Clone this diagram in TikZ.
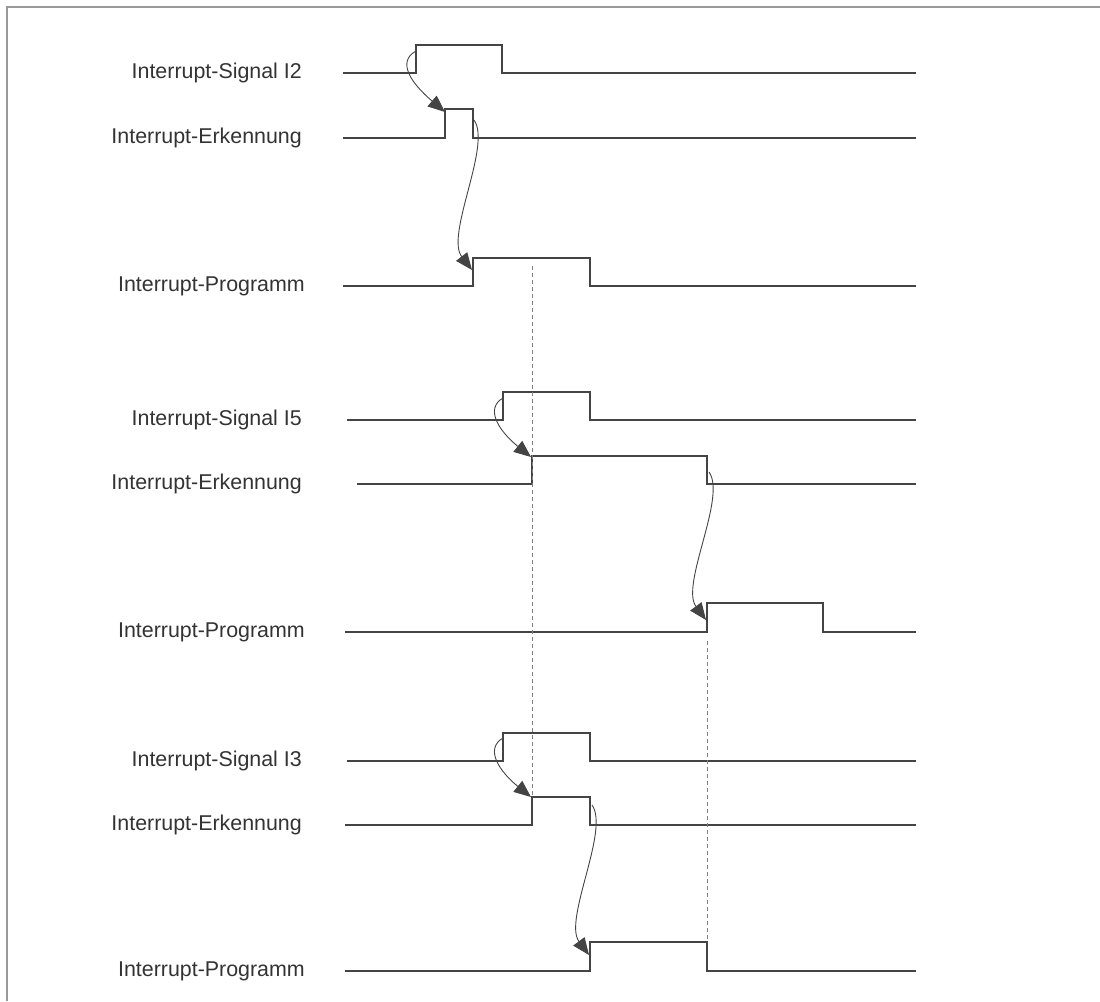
\documentclass[tikz,border=0pt]{standalone}
\usepackage{fontspec}
\setmainfont{Liberation Sans}
\usetikzlibrary{arrows.meta}
\definecolor{wavegray}{HTML}{444444}
\definecolor{textgray}{HTML}{333333}
\tikzstyle{signame} = [anchor=east, inner sep=0pt, text=textgray, font=\fontsize{21.4}{25}\selectfont]
\tikzstyle{signal} = [line width=1.8pt, draw=wavegray]
\tikzstyle{trigger} = [line width=0.9pt, draw=wavegray, -{Triangle[length=17pt,width=14pt]}]
\tikzstyle{marker} = [line width=0.9pt, draw=gray, dash pattern=on 4pt off 3pt]
\tikzstyle{frame} = [line width=2pt, draw=gray!80]

\begin{document}
\begin{tikzpicture}[x=1pt, y=-1pt]
\useasboundingbox (0,0) rectangle (1100,1001);
\draw [frame] (1100,7) -- (7,7) -- (7,1001);

%% NODES

\node (sigA) [signame] at (302,73) {Interrupt-Signal I2};
\node (erkA) [signame] at (302,138) {Interrupt-Erkennung};
\node (prgA) [signame] at (305,286) {Interrupt-Programm};
\node (sigB) [signame] at (302,420) {Interrupt-Signal I5};
\node (erkB) [signame] at (302,484) {Interrupt-Erkennung};
\node (prgB) [signame] at (305,632) {Interrupt-Programm};
\node (sigC) [signame] at (302,761) {Interrupt-Signal I3};
\node (erkC) [signame] at (302,825) {Interrupt-Erkennung};
\node (prgC) [signame] at (305,971) {Interrupt-Programm};

%% SIGNALS

\draw [signal] (343,73) -- (416,73) -- (416,45) -- (502,45) -- (502,73) -- (916,73);
\draw [signal] (343,138) -- (445,138) -- (445,109) -- (473,109) -- (473,138) -- (916,138);
\draw [signal] (343,286) -- (473,286) -- (473,258) -- (590,258) -- (590,286) -- (916,286);

\draw [signal] (347,420) -- (503,420) -- (503,392) -- (590,392) -- (590,420) -- (916,420);
\draw [signal] (357,484) -- (532,484) -- (532,456) -- (707,456) -- (707,484) -- (916,484);
\draw [signal] (345,632) -- (707,632) -- (707,603) -- (823,603) -- (823,632) -- (916,632);

\draw [signal] (347,761) -- (503,761) -- (503,733) -- (590,733) -- (590,761) -- (916,761);
\draw [signal] (345,825) -- (532,825) -- (532,797) -- (590,797) -- (590,825) -- (916,825);
\draw [signal] (345,971) -- (590,971) -- (590,942) -- (707,942) -- (707,971) -- (916,971);

\draw [marker] (532,266) -- (532,797);
\draw [marker] (707,641) -- (707,942);

%% ARROWS

\coordinate (sigA-up) at (416,51);
\coordinate (erkA-up) at (445,112);
\coordinate (erkA-down) at (474,120);
\coordinate (prgA-up) at (472,270);
\coordinate (sigB-up) at (503,398);
\coordinate (erkB-up) at (531,457);
\coordinate (erkB-down) at (709,472);
\coordinate (prgB-up) at (706,620);
\coordinate (sigC-up) at (503,738);
\coordinate (erkC-up) at (531,797);
\coordinate (erkC-down) at (592,805);
\coordinate (prgC-up) at (589,955);

\draw [trigger] (sigA-up) .. controls (396,62) and (412,84) .. (erkA-up);
\draw [trigger] (erkA-down) .. controls (492,145) and (445,235) .. (prgA-up);
\draw [trigger] (sigB-up) .. controls (484,409) and (500,432) .. (erkB-up);
\draw [trigger] (erkB-down) .. controls (727,497) and (680,585) .. (prgB-up);
\draw [trigger] (sigC-up) .. controls (484,749) and (500,772) .. (erkC-up);
\draw [trigger] (erkC-down) .. controls (610,830) and (563,920) .. (prgC-up);

\end{tikzpicture}
\end{document}
